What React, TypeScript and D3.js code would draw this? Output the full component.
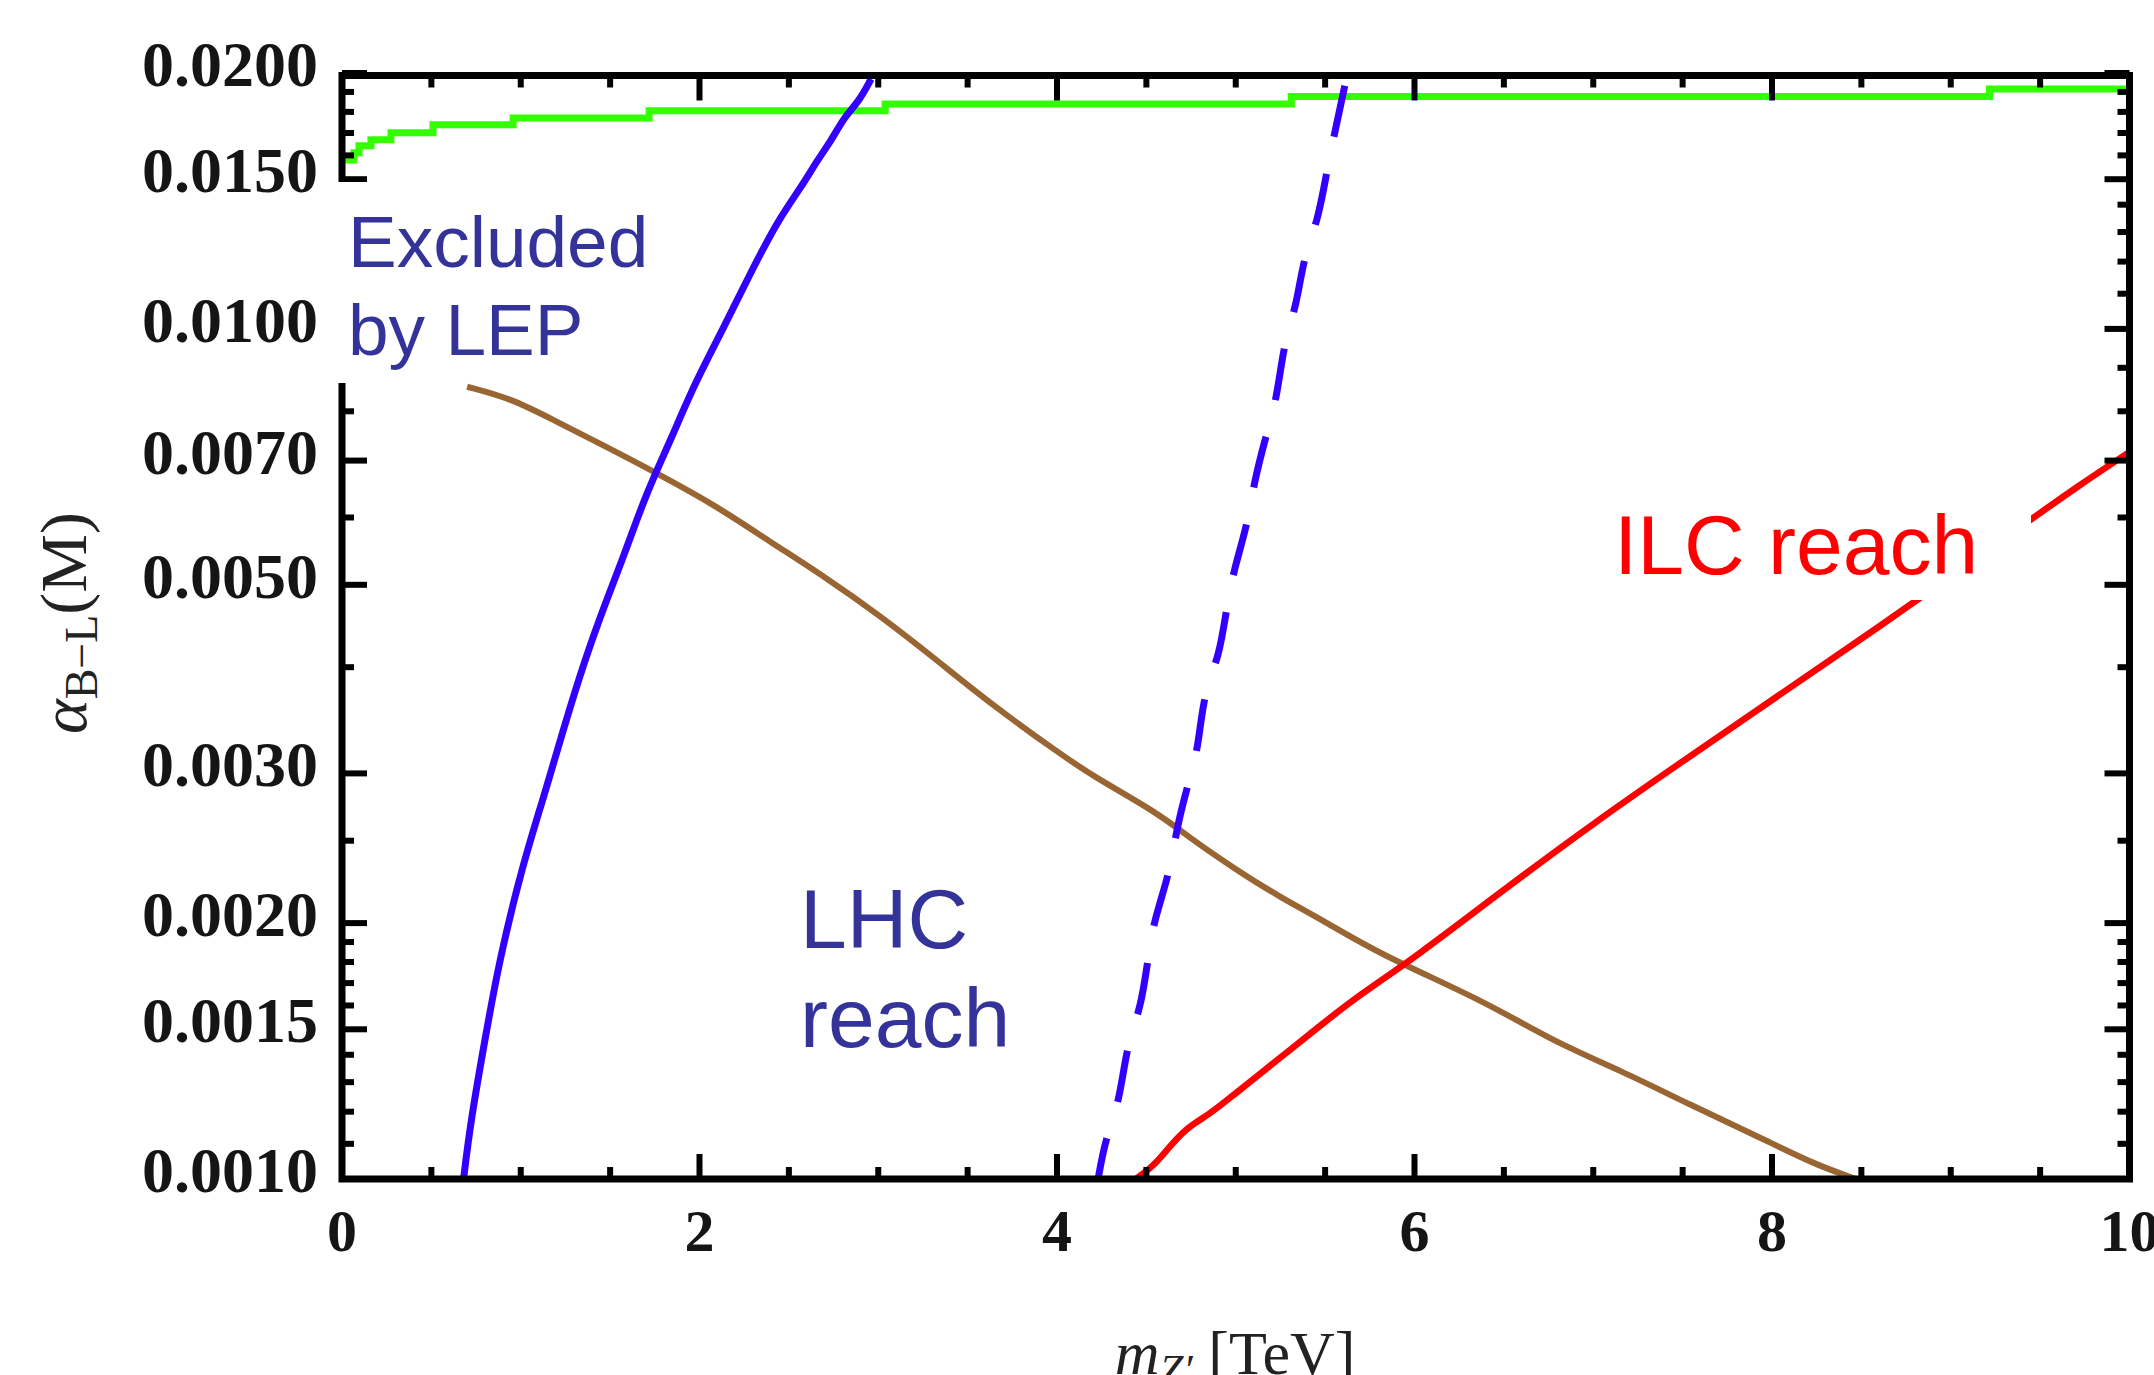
import React from "react";
import * as d3 from "d3";

// ---------- data ----------
const xMajorTicks = [0, 2, 4, 6, 8, 10];
const xMinorTicks = [0.5, 1, 1.5, 2.5, 3, 3.5, 4.5, 5, 5.5, 6.5, 7, 7.5, 8.5, 9, 9.5];
const yMajorTicks = [0.001, 0.0015, 0.002, 0.003, 0.005, 0.007, 0.01, 0.015, 0.02];
const yMinorTicks = [
  0.0011, 0.0012, 0.0013, 0.0014, 0.0016, 0.0017, 0.0018, 0.0019, 0.0025,
  0.004, 0.006, 0.008, 0.009, 0.011, 0.012, 0.013, 0.014, 0.016, 0.017, 0.018, 0.019,
];

// LEP exclusion (green, stepped)
const lepX = [0, 0.067, 0.095, 0.162, 0.274, 0.509, 0.957, 1.718, 3.039, 5.311, 9.217, 10];
const lepY = [0.0158, 0.01611, 0.01642, 0.01669, 0.01701, 0.01738, 0.01771, 0.01805, 0.01839, 0.01877, 0.01915, 0.01915];

// LHC reach (solid blue)
const lhcSolidX = [0.68, 0.72, 0.8, 0.88, 1.01, 1.13, 1.24, 1.36, 1.47, 1.59, 1.7, 1.84, 1.97, 2.13, 2.28, 2.44, 2.57, 2.66, 2.74, 2.81, 2.89, 2.96];
const lhcSolidY = [0.001, 0.00117, 0.00146, 0.00181, 0.00234, 0.00282, 0.00339, 0.00409, 0.00474, 0.0055, 0.00639, 0.00741, 0.0086, 0.00998, 0.01158, 0.01344, 0.01469, 0.0158, 0.01669, 0.01776, 0.01849, 0.01968];

// LHC reach (dashed blue)
const lhcDashX = [4.23, 4.27, 4.35, 4.39, 4.47, 4.51, 4.54, 4.63, 4.67, 4.73, 4.79, 4.82, 4.91, 4.95, 4.99, 5.07, 5.1, 5.17, 5.23, 5.27, 5.34, 5.38, 5.46, 5.51, 5.55, 5.61];
const lhcDashY = [0.001, 0.001114, 0.001232, 0.001437, 0.00159, 0.00182, 0.002006, 0.00229, 0.002588, 0.0029, 0.0032, 0.00373, 0.004125, 0.00472, 0.00521, 0.00594, 0.00657, 0.0075, 0.00827, 0.00965, 0.01064, 0.01215, 0.0134, 0.01534, 0.01687, 0.01932];

// brown curve
const brownX = [0.7, 0.94, 1.17, 1.47, 1.77, 2.09, 2.4, 2.7, 3.01, 3.32, 3.63, 4.02, 4.21, 4.57, 4.73, 4.99, 5.24, 5.48, 5.8, 6.39, 6.78, 7.16, 7.55, 7.93, 8.24, 8.47];
const brownY = [0.00855, 0.00829, 0.00784, 0.00728, 0.00675, 0.0062, 0.00561, 0.00511, 0.0046, 0.00409, 0.00362, 0.00316, 0.00297, 0.00269, 0.00253, 0.00232, 0.00215, 0.00202, 0.00184, 0.00162, 0.00145, 0.00134, 0.00122, 0.00112, 0.00104, 0.001];

// ILC reach (red)
const ilcX = [4.44, 4.54, 4.61, 4.72, 4.85, 4.98, 5.14, 5.31, 5.47, 5.7, 6.0, 6.5, 7.0, 7.5, 8.0, 8.5, 8.79, 9.47, 9.7, 10];
const ilcY = [0.001, 0.001036, 0.001079, 0.001148, 0.00119, 0.001252, 0.001332, 0.001422, 0.001514, 0.001651, 0.00182, 0.00219, 0.00262, 0.0031, 0.00366, 0.00432, 0.004762, 0.006011, 0.006508, 0.007166];

const labels = { lep: ["Excluded", "by LEP"], lhc: ["LHC", "reach"], ilc: "ILC reach" };

// ---------- layout ----------
const W = 2154;
const H = 1375;
const left = 342;
const right = 2129.5;
const top = 75.5;
const bottom = 1179;

export default function App() {
  const x = d3.scaleLinear().domain([0, 10]).range([left, right]);
  const y = d3.scaleLog().domain([0.001, 0.02]).range([bottom, 73]);

  const zip = (xs: number[], ys: number[]) => xs.map((v, i) => [v, ys[i]] as [number, number]);
  const smooth = d3
    .line<[number, number]>()
    .x((d) => x(d[0]))
    .y((d) => y(d[1]))
    .curve(d3.curveBasis);
  const stepLine = d3
    .line<[number, number]>()
    .x((d) => x(d[0]))
    .y((d) => y(d[1]))
    .curve(d3.curveStepAfter);

  const fmt = (v: number) => v.toFixed(4);
  const tickFont = "'Liberation Serif', 'Times New Roman', serif";
  const labelFont = "'Liberation Sans', Arial, sans-serif";

  const majorLen = 25;
  const minorLen = 12;
  const tickW = 6;

  return (
    <svg
      width={W}
      height={H}
      style={{ position: "absolute", left: 0, top: 0, background: "#fff" }}
      xmlns="http://www.w3.org/2000/svg"
    >
      <defs>
        <clipPath id="plotclip">
          <rect x={left} y={top} width={right - left} height={bottom - top} />
        </clipPath>
      </defs>
      <rect x={0} y={0} width={W} height={H} fill="#fff" />

      {/* curves */}
      <g clipPath="url(#plotclip)" fill="none" strokeLinejoin="miter">
        <path d={stepLine(zip(lepX, lepY)) || ""} stroke="#33ff00" strokeWidth={7} />
        <path d={smooth(zip(brownX, brownY)) || ""} stroke="#996633" strokeWidth={6} />
        <path d={smooth(zip(ilcX, ilcY)) || ""} stroke="#ff0000" strokeWidth={6.5} />
        <path d={smooth(zip(lhcSolidX, lhcSolidY)) || ""} stroke="#3300ff" strokeWidth={7} />
        <path
          d={smooth(zip(lhcDashX, lhcDashY).reverse()) || ""}
          stroke="#3300ff"
          strokeWidth={7}
          strokeDasharray="52 38"
        />
      </g>

      {/* ticks */}
      <g stroke="#000" strokeWidth={tickW}>
        {xMajorTicks.map((t) => (
          <g key={"xM" + t}>
            <line x1={x(t)} x2={x(t)} y1={bottom} y2={bottom - majorLen} />
            <line x1={x(t)} x2={x(t)} y1={top} y2={top + majorLen} />
          </g>
        ))}
        {xMinorTicks.map((t) => (
          <g key={"xm" + t}>
            <line x1={x(t)} x2={x(t)} y1={bottom} y2={bottom - minorLen} />
            <line x1={x(t)} x2={x(t)} y1={top} y2={top + minorLen} />
          </g>
        ))}
        {yMajorTicks.map((t) => (
          <g key={"yM" + t}>
            <line x1={left} x2={left + majorLen} y1={y(t)} y2={y(t)} />
            <line x1={right} x2={right - majorLen} y1={y(t)} y2={y(t)} />
          </g>
        ))}
        {yMinorTicks.map((t) => (
          <g key={"ym" + t}>
            <line x1={left} x2={left + minorLen} y1={y(t)} y2={y(t)} />
            <line x1={right} x2={right - minorLen} y1={y(t)} y2={y(t)} />
          </g>
        ))}
      </g>

      {/* frame */}
      <rect
        x={left}
        y={top}
        width={right - left}
        height={bottom - top}
        fill="none"
        stroke="#000"
        strokeWidth={7}
      />

      {/* annotation boxes */}
      <rect x={330} y={182} width={330} height={201} fill="#fff" />
      <rect x={1600} y={492} width={431} height={108} fill="#fff" />

      {/* tick labels */}
      <g fontFamily={tickFont} fontWeight="bold" fill="#151515">
        {yMajorTicks.map((t) => (
          <text key={"yl" + t} x={318} y={y(t) + 13} textAnchor="end" fontSize={64}>
            {fmt(t)}
          </text>
        ))}
        {xMajorTicks.map((t) => (
          <text key={"xl" + t} x={x(t)} y={1251} textAnchor="middle" fontSize={60}>
            {t}
          </text>
        ))}
      </g>

      {/* axis titles */}
      <text
        transform={`translate(86, 623) rotate(-90)`}
        textAnchor="middle"
        fontFamily={tickFont}
        fontSize={66}
        fill="#222"
      >
        <tspan fontStyle="italic">α</tspan>
        <tspan fontSize={46} dy={11}>B−L</tspan>
        <tspan dy={-11}>(M)</tspan>
      </text>
      <text x={1235} y={1374} textAnchor="middle" fontFamily={tickFont} fontSize={62} fill="#222">
        <tspan fontStyle="italic">m</tspan>
        <tspan fontSize={43} dy={10} fontStyle="italic">Z′</tspan>
        <tspan dy={-10}> [TeV]</tspan>
      </text>

      {/* annotations */}
      <g fontFamily={labelFont} fill="#333399">
        <text x={348} y={267} fontSize={73}>{labels.lep[0]}</text>
        <text x={348} y={355} fontSize={73}>{labels.lep[1]}</text>
        <text x={800} y={948} fontSize={84}>{labels.lhc[0]}</text>
        <text x={800} y={1047} fontSize={84}>{labels.lhc[1]}</text>
      </g>
      <text x={1614} y={574} fontFamily={labelFont} fontSize={84} fill="#ff0000">
        {labels.ilc}
      </text>
    </svg>
  );
}
